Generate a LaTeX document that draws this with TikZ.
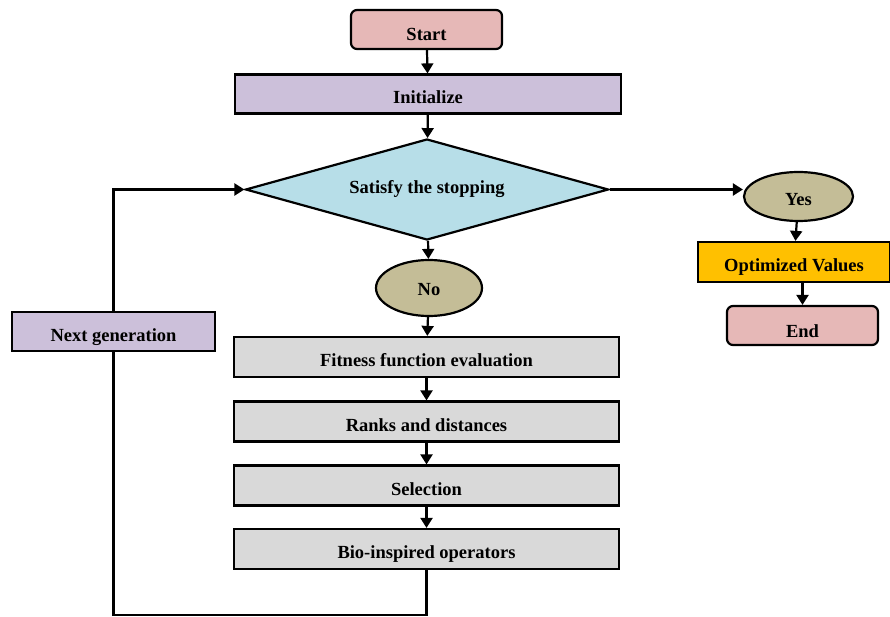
\documentclass[tikz,border=0pt]{standalone}
\usepackage{fontspec}
\setmainfont{Liberation Serif}
\usetikzlibrary{shapes.geometric,arrows.meta}
\definecolor{startpink}{HTML}{E6B8B7}
\definecolor{initlav}{HTML}{CCC0DA}
\definecolor{testblue}{HTML}{B7DEE8}
\definecolor{ovaltan}{HTML}{C4BD97}
\definecolor{optgold}{HTML}{FFC000}
\definecolor{stepgray}{HTML}{D9D9D9}
\tikzset{
  box/.style={draw,line width=2.2pt,inner sep=0pt,text height=23pt,text depth=4pt,
    font=\bfseries\fontsize{18.5}{22}\selectfont},
  termbox/.style={box,rounded corners=6pt,fill=startpink,text height=27pt,
    minimum width=151pt,minimum height=39pt},
  lavbox/.style={box,fill=initlav,minimum height=39pt},
  graybox/.style={box,fill=stepgray,minimum width=385pt,minimum height=40pt},
  oval/.style={box,ellipse,fill=ovaltan},
  flow/.style={line width=2.2pt,-{Triangle[width=12pt,length=10pt]}},
  plain/.style={line width=2.2pt}}
\begin{document}
\begin{tikzpicture}[x=1pt,y=-1pt]
    \useasboundingbox (0,0) rectangle (890,617);
    % main column
    \node[termbox] (start) at (426.5,29.5) {Start};
    \node[lavbox,minimum width=386pt] (init) at (428,94) {Initialize};
    \node[box,diamond,aspect=3.6,fill=testblue,text height=13pt,text depth=4pt,
      minimum width=363pt,minimum height=101pt] (stop) at (427,189.5) {Satisfy the stopping};
    \node[oval,text height=19pt,minimum width=106pt,minimum height=56pt] (no) at (429,288) {No};
    \foreach \n/\y/\t in {fit/357/Fitness function evaluation,rank/421.5/Ranks and distances,%
      sel/485.5/Selection,bio/549/Bio-inspired operators}
      \node[graybox] (\n) at (426.5,\y) {\t};
    % right branch
    \node[oval,minimum width=109pt,minimum height=49pt] (yes) at (798.5,196.5) {Yes};
    \node[box,fill=optgold,minimum width=192pt,minimum height=40pt] (opt) at (794,262) {Optimized Values};
    \node[termbox] (end) at (802.5,325.5) {End};
    % feedback
    \node[lavbox,minimum width=203pt] (next) at (113.5,331.5) {Next generation};
    \coordinate (turn) at ([yshift=-45pt]bio.south);
    \draw[flow] (start) -- (init);
    \draw[flow] (init) -- (stop);
    \draw[flow] (stop) -- (no);
    \draw[flow] (no) -- (fit);
    \draw[flow] (fit) -- (rank);
    \draw[flow] (rank) -- (sel);
    \draw[flow] (sel) -- (bio);
    \draw[flow] (stop.east) -- (yes.west |- stop.east);
    \draw[flow] (yes) -- (opt);
    \draw[flow] (opt.south -| end.north) -- (end);
    \draw[plain] (bio.south) -- (turn) -| (next.south);
    \draw[flow] (next.north) |- (stop.west);
\end{tikzpicture}
\end{document}
